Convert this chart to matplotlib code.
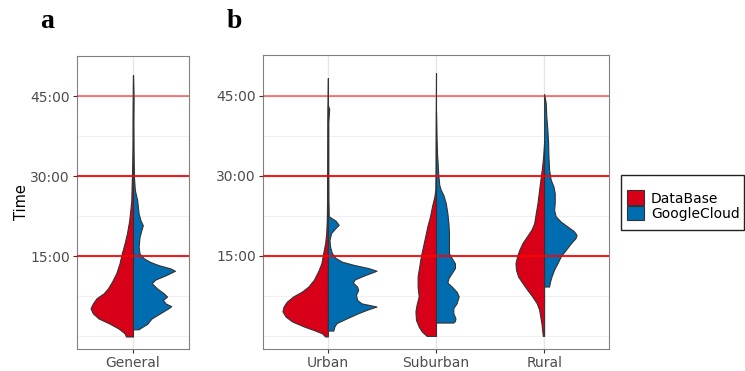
import numpy as np
import matplotlib.pyplot as plt
from matplotlib.patches import Patch, Rectangle

# violin halves: time in minutes and half-width (x units)
general_db_t = [-0.1, 0.5, 1.4, 2.4, 3.3, 4.25, 5.2, 6.1, 7.1, 8.0, 8.9, 10.2, 11.75,
                13.6, 15.5, 17.4, 19.25, 21.75, 24.25, 25.5, 28, 32, 36, 42, 49]
general_db_w = [0.075, 0.09, 0.155, 0.26, 0.37, 0.43, 0.455, 0.43, 0.39, 0.315, 0.27,
                0.225, 0.18, 0.145, 0.12, 0.09, 0.065, 0.04, 0.025, 0.018, 0.015,
                0.008, 0.005, 0.004, 0.0]
general_gc_t = [1.25, 1.5, 2.25, 3.3, 4.25, 5.2, 5.6, 6.1, 6.75, 7.4, 8.0, 8.9, 9.9, 10.6,
                11.4, 12.25, 12.7, 13.3, 13.9, 14.6, 15.5, 16.75, 18.6, 19.9, 20.8, 21.75,
                23, 25.5, 27.4, 29.9, 34, 40, 44.6, 49]
general_gc_w = [0.06, 0.08, 0.15, 0.20, 0.29, 0.38, 0.41, 0.35, 0.32, 0.365, 0.33, 0.26,
                0.20, 0.24, 0.35, 0.45, 0.40, 0.275, 0.185, 0.115, 0.07, 0.06, 0.07,
                0.09, 0.105, 0.08, 0.06, 0.045, 0.02, 0.01, 0.006, 0.004, 0.006, 0.0]

urban_db_t = [-0.1, 0.5, 1.1, 1.75, 2.7, 3.6, 4.6, 5.5, 6.4, 7.4, 8.3, 9.25, 10.5, 12.1,
              13.6, 15.5, 17.4, 19.25, 21.75, 26, 32, 40, 48.3]
urban_db_w = [0.025, 0.055, 0.13, 0.22, 0.33, 0.39, 0.42, 0.41, 0.38, 0.32, 0.24, 0.18,
              0.13, 0.09, 0.06, 0.043, 0.025, 0.015, 0.01, 0.007, 0.005, 0.004, 0.0]
urban_gc_t = [1.0, 1.75, 2.4, 3.3, 4.25, 5.0, 5.5, 6.1, 6.75, 7.7, 8.6, 9.25, 10.0, 10.6,
              11.4, 12.2, 12.7, 13.3, 13.9, 14.6, 15.5, 16.75, 18.0, 19.25, 20.2, 20.8,
              21.6, 22.4, 26, 32, 40, 42.5, 43.2]
urban_gc_w = [0.05, 0.06, 0.08, 0.175, 0.28, 0.375, 0.45, 0.31, 0.27, 0.26, 0.28, 0.27,
              0.23, 0.25, 0.345, 0.45, 0.375, 0.24, 0.13, 0.07, 0.037, 0.02, 0.015, 0.03,
              0.07, 0.10, 0.07, 0.008, 0.005, 0.004, 0.004, 0.012, 0.0]

suburban_db_t = [0.0, 0.8, 1.75, 3.0, 4.6, 5.8, 7.4, 9.25, 11.1, 13.0, 14.9, 16.75, 18.6,
                 20.5, 22.4, 24.25, 26.1, 27.4, 31, 38, 49.2]
suburban_db_w = [0.086, 0.13, 0.16, 0.185, 0.19, 0.18, 0.16, 0.17, 0.17, 0.155, 0.14,
                 0.12, 0.10, 0.08, 0.055, 0.037, 0.015, 0.006, 0.004, 0.003, 0.0]
suburban_gc_t = [2.5, 2.8, 3.3, 4.25, 5.2, 6.1, 7.4, 8.3, 9.25, 10.0, 10.8, 11.75, 12.7,
                 13.6, 14.6, 15.5, 17.4, 19.25, 21.1, 23.0, 24.9, 26.4, 27.4, 28.3, 30.5,
                 32.4, 34.25, 36.75, 42]
suburban_gc_w = [0.16, 0.175, 0.18, 0.16, 0.16, 0.19, 0.21, 0.19, 0.145, 0.105, 0.115,
                 0.145, 0.175, 0.175, 0.145, 0.12, 0.12, 0.12, 0.115, 0.105, 0.09, 0.068,
                 0.043, 0.03, 0.02, 0.015, 0.009, 0.005, 0.0]

rural_db_t = [0.0, 2.4, 4.9, 6.1, 7.4, 8.6, 9.9, 11.1, 12.4, 13.6, 14.9, 16.1, 17.4, 18.6,
              19.9, 21.1, 23.0, 24.9, 27.4, 29.9, 31.75, 33.6, 35.5, 36.5]
rural_db_w = [0.012, 0.025, 0.046, 0.068, 0.11, 0.155, 0.20, 0.24, 0.26, 0.265, 0.25, 0.23,
              0.20, 0.16, 0.117, 0.092, 0.077, 0.061, 0.046, 0.03, 0.018, 0.009, 0.003, 0.0]
rural_gc_t = [9.25, 10.2, 11.1, 12.4, 13.6, 14.9, 16.1, 17.4, 18.3, 18.9, 19.6, 20.5, 21.4,
              22.4, 23.6, 24.9, 26.75, 28.0, 29.25, 31.1, 33.6, 36.1, 38.6, 41.1, 43.6, 45.3]
rural_gc_w = [0.046, 0.055, 0.068, 0.092, 0.123, 0.154, 0.20, 0.25, 0.29, 0.30, 0.276,
              0.215, 0.154, 0.107, 0.092, 0.098, 0.098, 0.086, 0.061, 0.046, 0.04, 0.037,
              0.03, 0.02, 0.015, 0.0]

panel_a = {'General': (general_db_t, general_db_w, general_gc_t, general_gc_w)}
panel_b = {'Urban': (urban_db_t, urban_db_w, urban_gc_t, urban_gc_w),
           'Suburban': (suburban_db_t, suburban_db_w, suburban_gc_t, suburban_gc_w),
           'Rural': (rural_db_t, rural_db_w, rural_gc_t, rural_gc_w)}

tick_vals = [15, 30, 45]
tick_labels = ['15:00', '30:00', '45:00']
minor_vals = [0, 7.5, 22.5, 37.5]
line_alpha = [1.0, 1.0, 0.55]

RED = '#D80018'
BLUE = '#006DB0'
EDGE = '#333333'
TXT = '#4d4d4d'


def draw_panel(ax, groups):
    n = len(groups)
    for v in minor_vals:
        ax.axhline(v, color='#f0f0f0', lw=0.7, zorder=0)
    for v in tick_vals:
        ax.axhline(v, color='#e6e6e6', lw=1.0, zorder=0)
    for i, (name, (t1, w1, t2, w2)) in enumerate(groups.items()):
        c = i + 1
        ax.axvline(c, color='#e6e6e6', lw=1.0, zorder=0)
        t1, w1, t2, w2 = map(np.asarray, (t1, w1, t2, w2))
        ax.fill_betweenx(t1, c - w1, c, facecolor=RED, edgecolor=EDGE, lw=0.8, zorder=2)
        ax.fill_betweenx(t2, c, c + w2, facecolor=BLUE, edgecolor=EDGE, lw=0.8, zorder=2)
    for v, a in zip(tick_vals, line_alpha):
        ax.axhline(v, color='#ff0000', alpha=a, lw=1.3, zorder=3)
    ax.set_xlim(0.4, n + 0.6)
    ax.set_ylim(-2.45, 52.6)
    ax.set_xticks(range(1, n + 1))
    ax.set_xticklabels(list(groups.keys()))
    ax.set_yticks(tick_vals)
    ax.set_yticklabels(tick_labels)
    ax.tick_params(colors='#333333', labelcolor=TXT, labelsize=10, length=3, width=0.8, pad=2)
    for s in ax.spines.values():
        s.set_color('#808080')
        s.set_linewidth(0.8)


fig = plt.figure(figsize=(7.45, 3.71), dpi=100)
ax_a = fig.add_axes([77 / 745, 22 / 371, 112 / 745, 293 / 371])
ax_b = fig.add_axes([263 / 745, 22 / 371, 346 / 745, 294 / 371])
draw_panel(ax_a, panel_a)
draw_panel(ax_b, panel_b)
ax_a.set_ylabel('Time', fontsize=10.5, color='black', labelpad=1)

fig.text(47 / 745, 1 - 28 / 371, 'a', family='Liberation Serif', weight='bold',
         fontsize=20, ha='center', va='baseline')
fig.text(234 / 745, 1 - 28 / 371, 'b', family='Liberation Serif', weight='bold',
         fontsize=20, ha='center', va='baseline')

# legend box drawn separately so its padding matches the ggplot one
fig.patches.append(Rectangle((621 / 745, 1 - 230 / 371), 123 / 745, 55 / 371,
                             transform=fig.transFigure, facecolor='white',
                             edgecolor='#222222', lw=1.0, zorder=1))
handles = [Patch(facecolor=RED, edgecolor=EDGE, lw=0.8, label='DataBase'),
           Patch(facecolor=BLUE, edgecolor=EDGE, lw=0.8, label='GoogleCloud')]
fig.legend(handles=handles, loc='center left', bbox_to_anchor=(624 / 745, 1 - 205.5 / 371),
           fontsize=10, frameon=False, borderpad=0.2, handlelength=1.25,
           handleheight=1.25, handletextpad=0.5, labelspacing=0.0, borderaxespad=0)

fig.savefig('out.png', dpi=100)
